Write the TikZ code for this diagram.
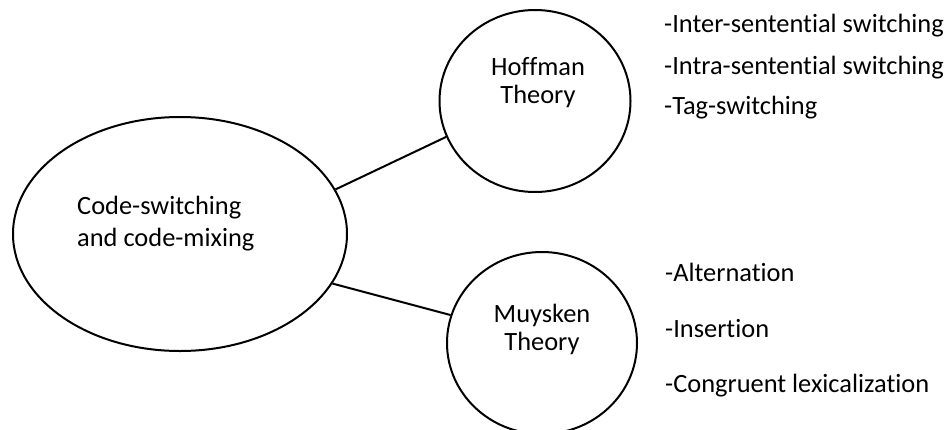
\documentclass[tikz,border=0pt]{standalone}
\usepackage{fontspec}
\setmainfont{Carlito}[Ligatures={NoCommon}]
\usetikzlibrary{shapes.geometric}
\begin{document}
\begin{tikzpicture}[x=1pt,y=-1pt,
  shapebox/.style={ellipse,draw=black,line width=2pt,inner sep=0pt},
  txt/.style={inner sep=0pt,anchor=base,font=\fontsize{26.4}{31}\selectfont},
  ltxt/.style={txt,anchor=base west},
  link/.style={draw=black,line width=2pt}]
\useasboundingbox (0,0) rectangle (948,429);
\node[shapebox,minimum width=334pt,minimum height=234pt] (main) at (180,234) {};
\node[shapebox,minimum width=191pt,minimum height=182pt] (hof) at (535,101) {};
\node[shapebox,minimum width=190pt,minimum height=182pt] (muy) at (542,343) {};
\draw[link] (main.16) -- (hof.202);
\draw[link] (main.342) -- (muy.163);
\node[ltxt] (m1) at (77,214) {Code-switching};
\node[ltxt] (m2) at (77,246) {and code-mixing};
\node[txt] (h1) at (538,75) {Hoffman};
\node[txt] (h2) at (538,103) {Theory};
\node[txt] (u1) at (542,322) {Muysken};
\node[txt] (u2) at (542,350) {Theory};
\node[ltxt] (a1) at (664,32) {-Inter-sentential switching};
\node[ltxt] (a2) at (664,74) {-Intra-sentential switching};
\node[ltxt] (a3) at (664,114) {-Tag-switching};
\node[ltxt] (b1) at (665,281) {-Alternation};
\node[ltxt] (b2) at (665,337) {-Insertion};
\node[ltxt] (b3) at (665,392) {-Congruent lexicalization};
\end{tikzpicture}
\end{document}
